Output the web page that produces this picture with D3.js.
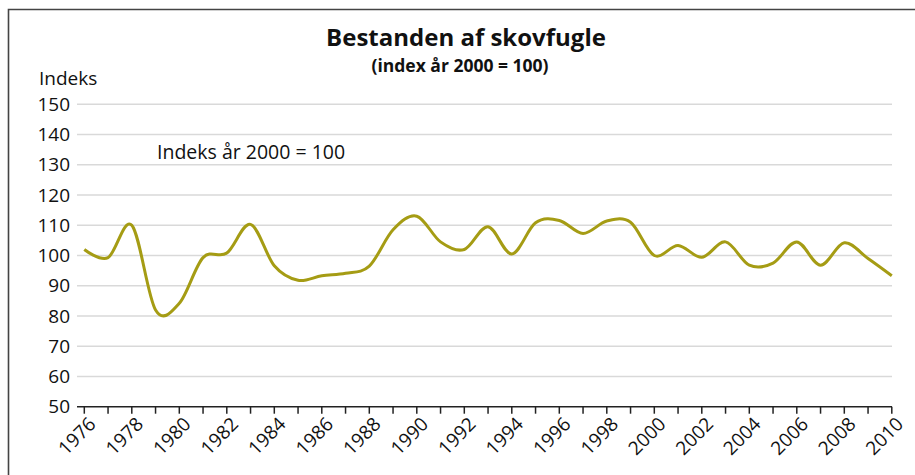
<!DOCTYPE html>
<html>
<head>
<meta charset="utf-8">
<script src="https://cdn.jsdelivr.net/npm/d3@7"></script>
<style>
  body { margin: 0; background: #fff; }
  text { font-family: "Open Sans", "Noto Sans", sans-serif; fill: #111; }
</style>
</head>
<body>
<script>
// data
const years = d3.range(1976, 2011);
const values = [102, 99.3, 110, 82, 84.2, 99.3, 100.8, 110.3, 96.6, 91.8,
                93.3, 94.1, 96.5, 108.5, 113, 104.5, 102, 109.5, 100.5, 110.8,
                111.6, 107.3, 111.4, 111, 100, 103.3, 99.4, 104.5, 96.8, 97.5,
                104.5, 96.8, 104.2, 99, 93.3];
const yTicks = [50, 60, 70, 80, 90, 100, 110, 120, 130, 140, 150];
const xLabels = d3.range(1976, 2011, 2);

const canvWidth = 915, canvHeight = 475;
const svg = d3.select("body").append("svg")
    .attr("width", canvWidth)
    .attr("height", canvHeight);

// frame (top + left edge)
svg.append("path")
    .attr("d", "M8.5,475 V9.5 H915")
    .attr("fill", "none")
    .attr("stroke", "#444")
    .attr("stroke-width", 1.6);

const plotLeft = 77, plotRight = 892;
const xScale = d3.scaleLinear().domain([1976, 2010]).range([84.3, 891.8]);
const yScale = d3.scaleLinear().domain([50, 150]).range([406.7, 104.3]);

// gridlines
svg.append("g").selectAll("line")
    .data(yTicks.filter(d => d > 50))
    .enter().append("line")
    .attr("x1", plotLeft).attr("x2", plotRight)
    .attr("y1", d => yScale(d)).attr("y2", d => yScale(d))
    .attr("stroke", "#d9d9d9")
    .attr("stroke-width", 1.5);

// y labels
svg.append("g").selectAll("text")
    .data(yTicks)
    .enter().append("text")
    .attr("x", 70)
    .attr("y", d => yScale(d))
    .attr("dy", "0.35em")
    .attr("text-anchor", "end")
    .attr("font-size", "19px")
    .text(d => d);

svg.append("text")
    .attr("x", 39).attr("y", 85)
    .attr("font-size", "19px")
    .text("Indeks");

// x axis
svg.append("line")
    .attr("x1", plotLeft).attr("x2", plotRight)
    .attr("y1", yScale(50)).attr("y2", yScale(50))
    .attr("stroke", "#222").attr("stroke-width", 1.5);

svg.append("g").selectAll("line")
    .data(years)
    .enter().append("line")
    .attr("x1", d => xScale(d)).attr("x2", d => xScale(d))
    .attr("y1", yScale(50)).attr("y2", yScale(50) + 7)
    .attr("stroke", "#222").attr("stroke-width", 1.5);

svg.append("g").selectAll("text")
    .data(xLabels)
    .enter().append("text")
    .attr("transform", d => "translate(" + (xScale(d) + 8) + "," + (yScale(50) + 14) + ") rotate(-45)")
    .attr("text-anchor", "end")
    .attr("dy", "0.35em")
    .attr("font-size", "19px")
    .text(d => d);

// the series
const line = d3.line()
    .x((d, i) => xScale(years[i]))
    .y(d => yScale(d))
    .curve(d3.curveCatmullRom.alpha(0));

svg.append("path")
    .datum(values)
    .attr("d", line)
    .attr("fill", "none")
    .attr("stroke", "#a59c14")
    .attr("stroke-width", 3);

// titles
svg.append("text")
    .attr("x", 466).attr("y", 45.5)
    .attr("text-anchor", "middle")
    .attr("font-size", "24px")
    .attr("font-weight", "bold")
    .text("Bestanden af skovfugle");

svg.append("text")
    .attr("x", 460).attr("y", 71.5)
    .attr("text-anchor", "middle")
    .attr("font-size", "17.5px")
    .attr("font-weight", "bold")
    .text("(index år 2000 = 100)");

svg.append("text")
    .attr("x", 157).attr("y", 159)
    .attr("font-size", "19.5px")
    .text("Indeks år 2000 = 100");
</script>
</body>
</html>
